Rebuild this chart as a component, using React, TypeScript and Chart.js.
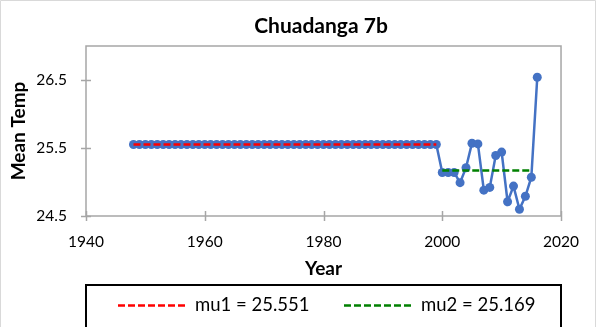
import React, { useEffect, useRef } from "react";
import { Chart, registerables } from "chart.js";

Chart.register(...registerables);

const FONT = "Lato, 'Open Sans', sans-serif";

const titleText = "Chuadanga 7b";
const xAxisTitle = "Year";
const yAxisTitle = "Mean Temp";

const years = [
  1948, 1949, 1950, 1951, 1952, 1953, 1954, 1955, 1956, 1957, 1958, 1959,
  1960, 1961, 1962, 1963, 1964, 1965, 1966, 1967, 1968, 1969, 1970, 1971,
  1972, 1973, 1974, 1975, 1976, 1977, 1978, 1979, 1980, 1981, 1982, 1983,
  1984, 1985, 1986, 1987, 1988, 1989, 1990, 1991, 1992, 1993, 1994, 1995,
  1996, 1997, 1998, 1999, 2000, 2001, 2002, 2003, 2004, 2005, 2006, 2007,
  2008, 2009, 2010, 2011, 2012, 2013, 2014, 2015, 2016,
];

const meanTemp = [
  25.551, 25.551, 25.551, 25.551, 25.551, 25.551, 25.551, 25.551, 25.551, 25.551, 25.551, 25.551,
  25.551, 25.551, 25.551, 25.551, 25.551, 25.551, 25.551, 25.551, 25.551, 25.551, 25.551, 25.551,
  25.551, 25.551, 25.551, 25.551, 25.551, 25.551, 25.551, 25.551, 25.551, 25.551, 25.551, 25.551,
  25.551, 25.551, 25.551, 25.551, 25.551, 25.551, 25.551, 25.551, 25.551, 25.551, 25.551, 25.551,
  25.551, 25.551, 25.551, 25.551, 25.14, 25.14, 25.14, 24.99, 25.21, 25.57, 25.56, 24.88,
  24.92, 25.39, 25.44, 24.71, 24.94, 24.6, 24.79, 25.07, 26.54,
];

const mu1Years = [1948, 1999];
const mu1Value = 25.551;
const mu2Years = [2000, 2015];
const mu2Value = 25.169;

const mu1Label = "mu1 = 25.551";
const mu2Label = "mu2 = 25.169";

const xTickValues = [1940, 1960, 1980, 2000, 2020];
const yTickValues = [24.5, 25.5, 26.5];

const BLUE = "#4472C4";
const RED = "#FF0000";
const GREEN = "#008000";
const AXIS_GRAY = "#A6A6A6";

const decorPlugin = {
  id: "decor",
  beforeDatasetsDraw(chart: any) {
    const { ctx, chartArea } = chart;
    const { left, right, top, bottom } = chartArea;
    ctx.save();
    ctx.strokeStyle = AXIS_GRAY;
    ctx.lineWidth = 1.5;
    ctx.strokeRect(left, top, right - left, bottom - top);
    const xs = chart.scales.x;
    const ys = chart.scales.y;
    ctx.beginPath();
    xTickValues.forEach((v) => {
      const px = Math.round(xs.getPixelForValue(v)) + 0.5;
      ctx.moveTo(px, bottom - 5);
      ctx.lineTo(px, bottom + 5);
    });
    yTickValues.forEach((v) => {
      const py = Math.round(ys.getPixelForValue(v)) + 0.5;
      ctx.moveTo(left - 5, py);
      ctx.lineTo(left + 5, py);
    });
    ctx.stroke();
    ctx.restore();
  },
  afterDraw(chart: any) {
    const { ctx, width } = chart;
    ctx.save();
    ctx.strokeStyle = "#D9D9D9";
    ctx.lineWidth = 1;
    ctx.beginPath();
    ctx.moveTo(0.5, chart.height);
    ctx.lineTo(0.5, 0.5);
    ctx.lineTo(width - 0.5, 0.5);
    ctx.lineTo(width - 0.5, chart.height);
    ctx.stroke();

    ctx.fillStyle = "#000";
    ctx.font = `bold 21px ${FONT}`;
    ctx.textAlign = "center";
    ctx.textBaseline = "middle";
    ctx.fillText(titleText, 321, 26);

    ctx.strokeStyle = "#000";
    ctx.lineWidth = 2;
    ctx.strokeRect(86, 285, 475, 60);

    const ly = 305.5;
    const drawEntry = (x0: number, color: string, label: string) => {
      ctx.strokeStyle = color;
      ctx.lineWidth = 2.5;
      ctx.setLineDash([7, 3]);
      ctx.beginPath();
      ctx.moveTo(x0, ly);
      ctx.lineTo(x0 + 69, ly);
      ctx.stroke();
      ctx.setLineDash([]);
      ctx.fillStyle = "#000";
      ctx.font = `18.5px ${FONT}`;
      ctx.textAlign = "left";
      ctx.textBaseline = "middle";
      ctx.fillText(label, x0 + 77, ly);
    };
    drawEntry(118, RED, mu1Label);
    drawEntry(344, GREEN, mu2Label);
    ctx.restore();
  },
};

export default function App() {
  const canvasRef = useRef<HTMLCanvasElement | null>(null);

  useEffect(() => {
    if (!canvasRef.current) return;
    const seriesData = years.map((y, i) => ({ x: y, y: meanTemp[i] }));
    const mu1Data = mu1Years.map((y) => ({ x: y, y: mu1Value }));
    const mu2Data = mu2Years.map((y) => ({ x: y, y: mu2Value }));

    const chart = new Chart(canvasRef.current, {
      type: "line",
      data: {
        datasets: [
          {
            label: mu1Label,
            data: mu1Data,
            borderColor: RED,
            borderWidth: 2.5,
            borderDash: [7, 3],
            pointRadius: 0,
            fill: false,
            order: 0,
          },
          {
            label: mu2Label,
            data: mu2Data,
            borderColor: GREEN,
            borderWidth: 2.5,
            borderDash: [7, 3],
            pointRadius: 0,
            fill: false,
            order: 0,
          },
          {
            label: yAxisTitle,
            data: seriesData,
            borderColor: BLUE,
            backgroundColor: BLUE,
            borderWidth: 2.5,
            pointRadius: 4.5,
            pointBackgroundColor: BLUE,
            pointBorderColor: BLUE,
            pointBorderWidth: 0,
            fill: false,
            tension: 0,
            order: 1,
          },
        ],
      },
      options: {
        animation: false,
        responsive: false,
        maintainAspectRatio: false,
        layout: { padding: { top: 46, right: 34, bottom: 47, left: 0 } },
        plugins: {
          legend: { display: false },
          title: { display: false },
          tooltip: { enabled: false },
        },
        scales: {
          x: {
            type: "linear",
            min: 1940,
            max: 2020,
            afterBuildTicks: (scale: any) => {
              scale.ticks = xTickValues.map((v) => ({ value: v }));
            },
            afterFit: (scale: any) => {
              scale.height = 64;
            },
            grid: { display: false, drawTicks: false },
            border: { display: false },
            ticks: {
              padding: 17,
              color: "#000",
              font: { family: FONT, size: 15.5 },
              callback: (v: any) => String(v),
              maxRotation: 0,
            },
            title: {
              display: true,
              text: xAxisTitle,
              color: "#000",
              font: { family: FONT, size: 19, weight: "bold" },
              padding: { top: 0, bottom: 0 },
            },
          },
          y: {
            type: "linear",
            min: 24.5,
            max: 27,
            afterBuildTicks: (scale: any) => {
              scale.ticks = yTickValues.map((v) => ({ value: v }));
            },
            afterFit: (scale: any) => {
              scale.width = 86;
            },
            grid: { display: false, drawTicks: false },
            border: { display: false },
            ticks: {
              padding: 19,
              color: "#000",
              font: { family: FONT, size: 15.5 },
              callback: (v: any) => Number(v).toFixed(1),
            },
            title: {
              display: true,
              text: yAxisTitle,
              color: "#000",
              font: { family: FONT, size: 19, weight: "bold" },
              padding: { top: 7, bottom: 0 },
            },
          },
        },
      },
      plugins: [decorPlugin],
    });
    return () => chart.destroy();
  }, []);

  return (
    <div style={{ position: "absolute", left: 0, top: 0, width: 596, height: 327, background: "#fff" }}>
      <canvas ref={canvasRef} width={596} height={327} style={{ display: "block" }} />
    </div>
  );
}
